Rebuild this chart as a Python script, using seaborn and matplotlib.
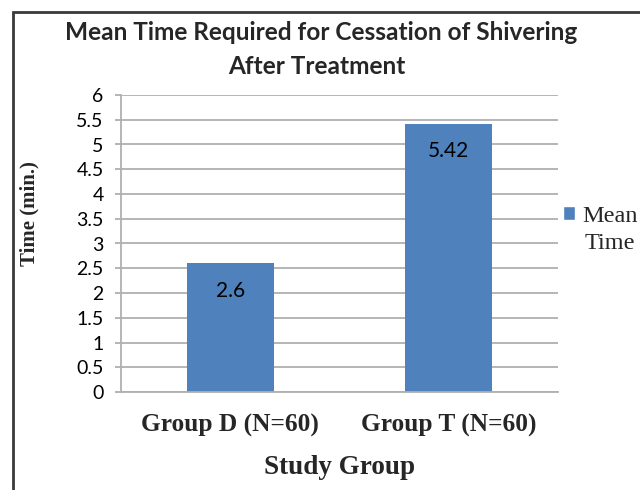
import matplotlib
matplotlib.use("Agg")
import matplotlib.pyplot as plt
import seaborn as sns
import pandas as pd
from matplotlib.patches import Rectangle, Patch

groups = ["Group D (N=60)", "Group T (N=60)"]
mean_time = [2.6, 5.42]
series_name = "Mean\nTime"
yticks = [0, 0.5, 1, 1.5, 2, 2.5, 3, 3.5, 4, 4.5, 5, 5.5, 6]
ytick_labels = ["0", "0.5", "1", "1.5", "2", "2.5", "3", "3.5", "4", "4.5", "5", "5.5", "6"]

df = pd.DataFrame({"group": groups, "time": mean_time})

sns.set_theme(style="white")
W, H = 640, 490
fig = plt.figure(figsize=(6.4, 4.9), dpi=100)
ax = fig.add_axes([121 / W, 1 - 392 / H, (558 - 121) / W, (392 - 95) / H])

blue = "#4F81BD"
sns.barplot(data=df, x="group", y="time", color=blue, width=0.4, ax=ax,
            saturation=1, edgecolor="none")

ax.set_ylim(0, 6)
ax.set_xlim(-0.5, 1.5)
ax.set_yticks(yticks)
ax.set_yticklabels(ytick_labels, fontfamily="Lato", fontsize=14)
ax.yaxis.grid(True, color="#B0B0B0", linewidth=1.3)
ax.set_axisbelow(True)
for s in ["top", "right"]:
    ax.spines[s].set_visible(False)
for s in ["left", "bottom"]:
    ax.spines[s].set_color("#B0B0B0")
    ax.spines[s].set_linewidth(1.3)
ax.tick_params(axis="y", which="major", left=True, length=4.5, width=1.3,
               color="#B0B0B0", pad=8, labelcolor="black")
ax.tick_params(axis="x", bottom=False, pad=10)
for lbl in ax.get_xticklabels():
    lbl.set_fontfamily("Liberation Serif")
    lbl.set_fontweight("bold")
    lbl.set_fontsize(18.3)

ax.set_xlabel("Study Group", fontfamily="Liberation Serif", fontweight="bold",
              fontsize=19.5, labelpad=13)
ax.set_ylabel("Time (min.)", fontfamily="Liberation Serif", fontweight="bold",
              fontsize=15)
ax.yaxis.set_label_coords(-0.186, 0.6)

for i, v in enumerate(mean_time):
    ax.annotate(f"{v:g}", xy=(i, v), xytext=(0, -20), textcoords="offset points",
                ha="center", va="center", fontfamily="Lato", fontsize=15, color="black")

fig.text(321.5 / W, 1 - 32 / H, "Mean Time Required for Cessation of Shivering",
         ha="center", va="center", fontfamily="Lato", fontweight="bold", fontsize=17.6)
fig.text(317 / W, 1 - 67 / H, "After Treatment",
         ha="center", va="center", fontfamily="Lato", fontweight="bold", fontsize=17.6)

leg = ax.legend(handles=[Patch(facecolor=blue, label=series_name)],
                loc="upper left", bbox_to_anchor=(563 / W, 1 - 206 / H),
                bbox_transform=fig.transFigure, frameon=False,
                prop={"family": "Liberation Serif", "size": 17.5},
                handlelength=0.5, handleheight=0.5, handletextpad=0.3,
                borderaxespad=0, borderpad=0, labelspacing=0)
for t in leg.get_texts():
    t.set_linespacing(1.4)
    t.set_multialignment("center")
for col in leg._legend_handle_box.get_children():
    for row in col.get_children():
        row.align = "top"

fig.patches.append(Rectangle((12.5 / W, -0.05), 1.0, 1 - 12.5 / H + 0.05,
                             transform=fig.transFigure, fill=False,
                             edgecolor="#3A3A3A", linewidth=2))

fig.savefig("out.png", dpi=100)
